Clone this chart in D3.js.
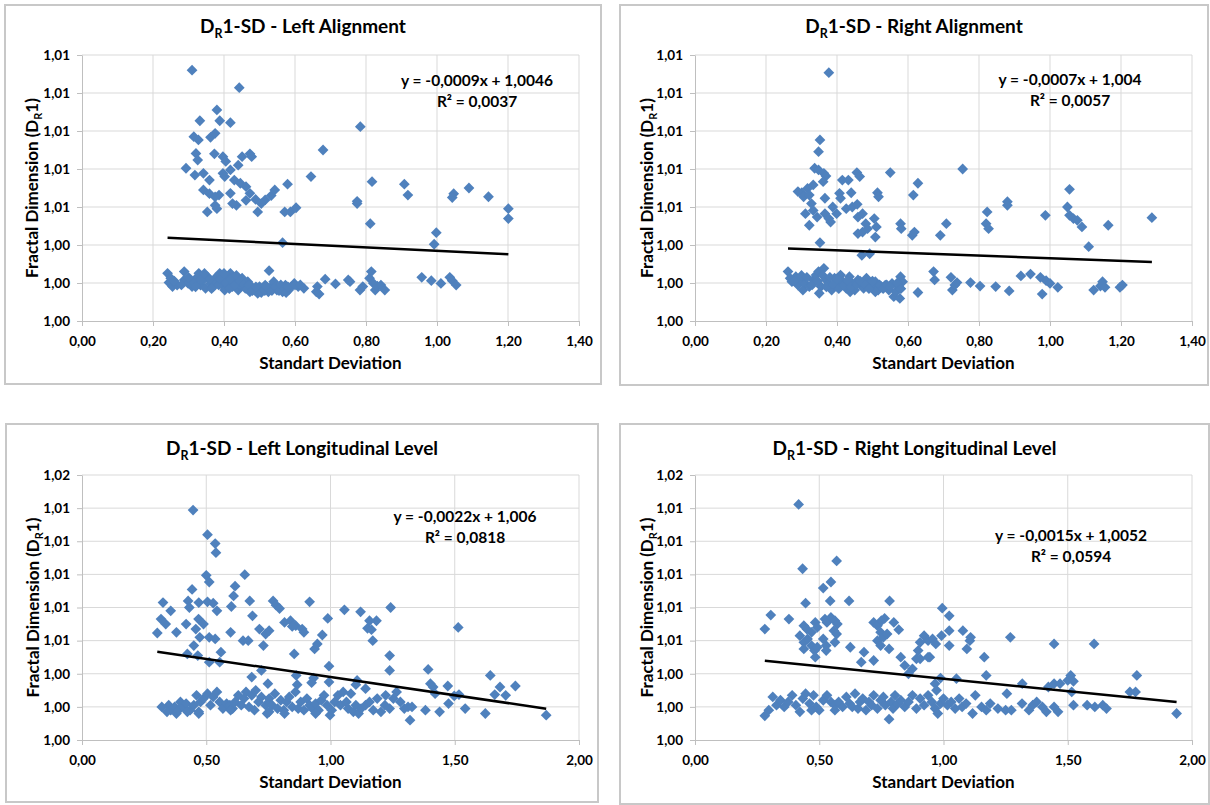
<!DOCTYPE html>
<html>
<head>
<meta charset="utf-8">
<script src="https://d3js.org/d3.v7.min.js"></script>
<style>
body {margin: 0; background: #fff;}
svg text {font-family: Lato, "Open Sans", sans-serif; font-weight: bold; fill: #000;}
.grid line {stroke: #d9d9d9; stroke-width: 1;}
.axis path, .axis line {stroke: #bfbfbf; stroke-width: 1;}
.axis text {font-size: 13.5px; font-weight: bold; fill: #000;}
.frame {fill: #fff; stroke: #c8c8c8; stroke-width: 2;}
</style>
</head>
<body>
<svg width="1210" height="805"></svg>
<script>

// ---- data ----
var xTicksAlign = [0, 0.2, 0.4, 0.6, 0.8, 1.0, 1.2, 1.4];
var xTicksLong = [0, 0.5, 1.0, 1.5, 2.0];
var yTicksAlign = [1.000, 1.002, 1.004, 1.006, 1.008, 1.010, 1.012, 1.014];
var yTicksLong = [1.000, 1.002, 1.004, 1.006, 1.008, 1.010, 1.012, 1.014, 1.016];

var titles = ["1-SD - Left Alignment", "1-SD - Right Alignment",
              "1-SD - Left Longitudinal Level", "1-SD - Right Longitudinal Level"];
var slopes = [-0.0009, -0.0007, -0.0022, -0.0015];
var intercepts = [1.0046, 1.004, 1.006, 1.0052];
var r2Labels = ["0,0037", "0,0057", "0,0818", "0,0594"];

var alignLeftPts = [
  [0.31,1.0132],[0.443,1.01228],[0.38,1.01111],[0.332,1.01054],[0.388,1.01054],[0.418,1.01044],[0.784,1.01023],
  [0.315,1.0097],[0.328,1.00953],[0.362,1.00967],[0.375,1.00988],[0.679,1.009],[0.293,1.00804],[0.321,1.00882],
  [0.326,1.00847],[0.373,1.0088],[0.397,1.00865],[0.405,1.0084],[0.473,1.0088],[0.478,1.00865],[0.451,1.00865],
  [0.318,1.00768],[0.342,1.00777],[0.359,1.00742],[0.397,1.00777],[0.418,1.00795],[0.44,1.0082],[0.402,1.0076],
  [0.429,1.00742],[0.446,1.00725],[0.462,1.00707],[0.473,1.00672],[0.342,1.0069],[0.386,1.00663],[0.418,1.00672],
  [0.489,1.0064],[0.645,1.0076],[0.579,1.0072],[0.817,1.00733],[0.908,1.0072],[0.918,1.00663],[1.047,1.0067],
  [1.09,1.007],[1.145,1.00654],[0.775,1.0063],[0.516,1.00637],[0.533,1.0066],[0.543,1.0069],[1.043,1.0065],
  [0.359,1.0067],[0.375,1.00653],[0.435,1.00609],[0.424,1.00618],[0.462,1.00635],[0.505,1.00618],[0.375,1.00609],
  [0.353,1.00574],[0.38,1.00591],[0.495,1.00574],[0.571,1.00574],[0.587,1.00574],[0.603,1.00596],[0.775,1.00618],
  [1.201,1.00591],[1.201,1.00539],[0.812,1.00512],[0.998,1.00465],[0.992,1.00404],[0.565,1.00412],
  [0.241,1.00251],[0.245,1.00202],[0.255,1.00181],[0.25,1.00225],[0.268,1.00189],[0.288,1.00216],[0.288,1.0026],
  [0.299,1.00198],[0.31,1.00181],[0.315,1.00207],[0.326,1.00233],[0.329,1.00251],[0.334,1.00189],[0.342,1.00216],
  [0.348,1.00172],[0.353,1.00233],[0.362,1.00198],[0.37,1.00181],[0.375,1.00225],[0.38,1.00207],[0.388,1.00251],
  [0.395,1.00189],[0.402,1.00163],[0.408,1.00233],[0.413,1.00198],[0.418,1.00251],[0.424,1.00181],[0.432,1.00216],
  [0.44,1.00163],[0.446,1.00189],[0.451,1.00225],[0.46,1.00172],[0.467,1.00207],[0.473,1.00154],[0.478,1.00181],
  [0.486,1.00163],[0.495,1.00146],[0.5,1.00181],[0.508,1.00163],[0.516,1.00189],[0.525,1.00154],[0.533,1.00181],
  [0.54,1.00207],[0.549,1.00163],[0.558,1.00181],[0.565,1.00154],[0.573,1.00189],[0.582,1.00163],[0.59,1.00181],
  [0.598,1.00198],[0.609,1.00181],[0.625,1.00172],[0.527,1.00265],
  [0.26,1.0021],[0.28,1.0019],[0.3,1.0023],[0.32,1.0018],[0.335,1.0022],[0.345,1.0025],[0.36,1.0022],[0.365,1.0017],
  [0.385,1.0019],[0.39,1.0022],[0.4,1.0025],[0.405,1.002],[0.415,1.0017],[0.42,1.0022],[0.43,1.0019],[0.435,1.0024],
  [0.445,1.0021],[0.455,1.0019],[0.465,1.0017],[0.47,1.0019],[0.48,1.0016],[0.49,1.0018],[0.505,1.0015],[0.515,1.0016],
  [0.52,1.0018],[0.535,1.0016],[0.545,1.0018],[0.555,1.0016],[0.56,1.0019],[0.57,1.0017],[0.575,1.0015],[0.58,1.0018],
  [0.6,1.0019],[0.615,1.0019],
  [0.663,1.00181],[0.66,1.00154],[0.668,1.00142],[0.685,1.0022],[0.714,1.00195],[0.75,1.00216],[0.755,1.00207],
  [0.783,1.00163],[0.791,1.00181],[0.81,1.00225],[0.815,1.0026],[0.821,1.00198],[0.826,1.00163],[0.832,1.00184],
  [0.842,1.00189],[0.853,1.00163],[0.957,1.0023],[0.984,1.00212],[1.011,1.00198],[1.036,1.0023],[1.043,1.00212],
  [1.054,1.00189]
];

var alignRightPts = [
  [0.377,1.01307],[0.352,1.00953],[0.348,1.00891],[0.337,1.00804],[0.348,1.00795],[0.363,1.00777],[0.369,1.00763],
  [0.361,1.00733],[0.333,1.00716],[0.317,1.00698],[0.301,1.00675],[0.29,1.00681],[0.306,1.00654],[0.322,1.00663],
  [0.366,1.00646],[0.415,1.00742],[0.432,1.00742],[0.456,1.00781],[0.464,1.0076],[0.55,1.00781],[0.628,1.00725],
  [0.754,1.008],[0.615,1.00663],[0.514,1.00675],[0.517,1.00654],[0.407,1.00672],[0.44,1.00675],[1.055,1.00693],
  [0.88,1.00628],[0.41,1.00646],
  [0.328,1.00618],[0.333,1.00582],[0.311,1.00565],[0.322,1.00504],[0.344,1.00547],[0.366,1.00565],[0.377,1.00539],
  [0.382,1.00521],[0.388,1.006],[0.399,1.00565],[0.426,1.00591],[0.443,1.006],[0.457,1.00614],[0.459,1.00547],
  [0.472,1.00565],[0.481,1.00512],[0.459,1.0046],[0.472,1.00468],[0.486,1.00486],[0.505,1.00539],[0.511,1.00495],
  [0.508,1.00442],[0.579,1.00512],[0.581,1.00486],[0.612,1.00451],[0.618,1.00468],[0.691,1.00451],[0.708,1.00512],
  [0.823,1.00574],[0.82,1.00512],[0.827,1.00486],[0.88,1.00609],[0.987,1.00556],[1.049,1.006],[1.055,1.00556],
  [1.066,1.00539],[1.077,1.0053],[1.09,1.00495],[1.109,1.00391],[1.164,1.00504],[1.287,1.00544],[0.352,1.00412],
  [0.47,1.00346],[0.492,1.00354],
  [0.262,1.0026],[0.268,1.00225],[0.273,1.00207],[0.284,1.00233],[0.29,1.00189],[0.297,1.00216],[0.304,1.00163],
  [0.311,1.00198],[0.322,1.00181],[0.333,1.00216],[0.341,1.00242],[0.348,1.0026],[0.355,1.00181],[0.363,1.00277],
  [0.369,1.00216],[0.377,1.00198],[0.385,1.00163],[0.393,1.00225],[0.402,1.00189],[0.41,1.00242],[0.417,1.00207],
  [0.426,1.00172],[0.435,1.00233],[0.443,1.00198],[0.45,1.00163],[0.459,1.00216],[0.468,1.00189],[0.475,1.00172],
  [0.483,1.00225],[0.492,1.00198],[0.501,1.00181],[0.508,1.00207],[0.516,1.00163],[0.525,1.00181],[0.536,1.00189],
  [0.546,1.00163],[0.555,1.00198],[0.56,1.00128],[0.566,1.00154],[0.574,1.00181],[0.577,1.00119],[0.579,1.00233],
  [0.585,1.00207],[0.35,1.00146],[0.437,1.00154],[0.508,1.00154],
  [0.28,1.0021],[0.3,1.0024],[0.315,1.0023],[0.33,1.0019],[0.345,1.0021],[0.36,1.0024],[0.37,1.0018],[0.38,1.0023],
  [0.39,1.0019],[0.4,1.0022],[0.405,1.0017],[0.42,1.0019],[0.43,1.0021],[0.44,1.0018],[0.455,1.0019],[0.465,1.0021],
  [0.48,1.0019],[0.49,1.0017],[0.5,1.0021],[0.52,1.0019],[0.53,1.0017],[0.54,1.0019],[0.55,1.0018],[0.57,1.002],
  [0.58,1.0017],
  [0.628,1.0015],[0.672,1.0026],[0.675,1.00216],[0.721,1.0023],[0.725,1.00163],[0.732,1.00189],[0.738,1.00202],
  [0.776,1.00202],[0.803,1.00184],[0.847,1.00181],[0.885,1.00158],[0.918,1.00237],[0.945,1.00247],[0.973,1.0023],
  [0.978,1.00142],[0.989,1.00212],[1.0,1.00198],[1.022,1.00177],[1.123,1.00163],[1.142,1.00184],[1.148,1.00207],
  [1.155,1.00177],[1.197,1.00177],[1.204,1.00189]
];

var longLeftPts = [
  [0.447,1.01388],[0.505,1.0124],[0.536,1.01186],[0.539,1.01131],[0.5,1.00994],[0.512,1.00954],[0.655,1.00998],
  [0.616,1.00929],[0.443,1.00909],
  [0.326,1.0083],[0.427,1.0084],[0.47,1.0083],[0.505,1.00834],[0.528,1.00826],[0.61,1.0087],[0.675,1.0084],
  [0.769,1.0084],[0.781,1.00814],[0.916,1.00834],[0.357,1.0078],[0.318,1.0073],[0.337,1.007],[0.432,1.008],
  [0.469,1.0073],[0.489,1.007],[0.543,1.0078],[0.601,1.00806],[0.686,1.0075],[0.795,1.00794],[0.839,1.0072],
  [0.86,1.0069],[0.886,1.0067],[0.893,1.0065],[0.989,1.00734],[1.056,1.00786],[1.121,1.00774],[1.185,1.0072],
  [1.242,1.008],[1.149,1.00674],[1.165,1.00666],[0.303,1.00646],[0.38,1.0065],[0.419,1.007],[0.45,1.0057],
  [0.474,1.0062],[0.512,1.0062],[0.536,1.0061],[0.458,1.0067],[0.598,1.0065],[0.648,1.006],[0.669,1.006],
  [0.714,1.0067],[0.739,1.0064],[0.73,1.0057],[0.815,1.0071],[0.846,1.00686],[0.936,1.0055],[0.947,1.0058],
  [0.967,1.00634],[0.753,1.0066],[1.157,1.0072],[1.17,1.006],[1.514,1.0068],[0.424,1.0052],[0.466,1.0051],
  [0.512,1.0047],[0.559,1.0053],[0.554,1.0047],[0.683,1.0038],[0.722,1.0042],[0.854,1.0052],[0.994,1.00446],
  [1.238,1.0051],[1.238,1.0042],[0.862,1.0039],[0.932,1.00374],[0.994,1.0035],[0.866,1.00334],[0.748,1.0034],
  [1.393,1.00426],[1.413,1.0032],[1.472,1.00326],[1.421,1.0028],[1.643,1.0039],[1.682,1.0032],[1.705,1.0027],
  [1.744,1.00326],[1.517,1.00274],[1.402,1.0034],[1.107,1.0036],[1.102,1.00334],[1.141,1.0031],[1.222,1.0027],
  [1.661,1.00274],[0.924,1.00346],
  [0.349,1.0021],[0.357,1.0018],[0.373,1.002],[0.38,1.0016],[0.388,1.0018],[0.396,1.0023],[0.408,1.002],
  [0.419,1.0022],[0.435,1.0018],[0.45,1.0021],[0.461,1.0027],[0.47,1.0017],[0.477,1.0023],[0.489,1.0025],
  [0.505,1.0028],[0.517,1.0021],[0.528,1.0026],[0.543,1.0029],[0.554,1.0023],[0.567,1.0019],[0.582,1.0022],
  [0.595,1.0021],[0.606,1.0019],[0.616,1.0023],[0.629,1.0027],[0.641,1.0021],[0.652,1.0025],[0.66,1.0029],
  [0.672,1.002],[0.683,1.0027],[0.694,1.0018],[0.699,1.003],[0.71,1.0023],[0.722,1.0026],[0.739,1.0021],
  [0.745,1.0016],[0.753,1.0025],[0.765,1.0021],[0.776,1.0028],[0.787,1.0019],[0.8,1.0024],[0.812,1.0018],
  [0.823,1.0023],[0.834,1.0026],[0.846,1.002],[0.859,1.0029],[0.87,1.0019],[0.88,1.0023],[0.893,1.0018],
  [0.905,1.0025],[0.916,1.0021],[0.927,1.0019],[0.94,1.0022],[0.952,1.0018],[0.963,1.0024],[0.974,1.0027],
  [0.986,1.0021],[0.998,1.0015],[1.005,1.0018],[1.017,1.0023],[1.03,1.0027],[1.04,1.0021],[1.051,1.0029],
  [1.064,1.0023],[1.071,1.0019],[1.082,1.0028],[1.092,1.0017],[1.102,1.0021],[1.113,1.0016],[1.123,1.0019],
  [1.141,1.0021],[1.157,1.0023],[1.172,1.0018],[1.188,1.0025],[1.203,1.0017],[1.219,1.0021],[1.238,1.0019],
  [1.253,1.0025],[1.266,1.0029],[1.281,1.0023],[1.297,1.0019],[1.312,1.002],[1.32,1.0012],[1.328,1.002],
  [1.382,1.0018],[1.439,1.0017],[1.475,1.0022],[1.498,1.00266],[1.542,1.0019],[1.623,1.0016],[1.868,1.0015],
  [0.321,1.002],[0.342,1.0017],[0.424,1.0017],[0.47,1.0016],[0.598,1.0018],[0.753,1.0017],[0.815,1.0016],
  [0.94,1.0016]
];

var longRightPts = [
  [0.417,1.01422],[0.433,1.01034],[0.57,1.01081],[0.547,1.00954],[0.516,1.00917],
  [0.445,1.00826],[0.544,1.0084],[0.62,1.0084],[0.783,1.0084],[0.995,1.00796],[0.305,1.00754],[0.378,1.0073],
  [0.281,1.0067],[0.438,1.0069],[0.45,1.0067],[0.469,1.0065],[0.484,1.0071],[0.492,1.0068],[0.523,1.0073],
  [0.531,1.0071],[0.547,1.0074],[0.563,1.0072],[0.573,1.007],[0.559,1.0066],[0.57,1.0064],[0.422,1.0063],
  [0.438,1.0059],[0.453,1.0061],[0.469,1.0057],[0.481,1.0054],[0.492,1.0056],[0.484,1.005],[0.438,1.0055],
  [0.516,1.0061],[0.528,1.0057],[0.528,1.0054],[0.563,1.0059],[0.625,1.0056],[0.68,1.0053],[0.669,1.0047],
  [0.719,1.0071],[0.734,1.0069],[0.75,1.0072],[0.763,1.00734],[0.747,1.0065],[0.734,1.006],[0.747,1.0057],
  [0.758,1.0062],[0.773,1.0064],[0.781,1.0055],[0.719,1.0048],[0.8,1.0071],[0.82,1.00666],[0.828,1.005],
  [0.844,1.0045],[0.875,1.0043],[0.891,1.0049],[0.898,1.0054],[0.922,1.0063],[0.938,1.006],[0.906,1.0059],
  [0.956,1.0061],[0.969,1.0058],[0.992,1.0063],[0.859,1.004],[0.906,1.0049],[0.945,1.005],[1.023,1.0057],
  [1.078,1.0066],[1.023,1.0066],[1.094,1.0055],[1.106,1.006],[1.109,1.0062],[1.164,1.005],[1.172,1.0039],
  [1.023,1.0075],[0.938,1.005],[1.269,1.0062],[1.445,1.0058],[1.606,1.0058],[1.317,1.0034],[1.422,1.0032],
  [1.445,1.0034],[1.469,1.0034],[1.5,1.0036],[1.512,1.0039],[1.523,1.00354],[1.75,1.0029],[1.773,1.0029],
  [1.778,1.0039],[1.516,1.0029],[1.255,1.0028],[0.966,1.0034],[0.972,1.003],[1.052,1.0037],[0.988,1.00374],
  [0.281,1.00146],[0.297,1.0018],[0.313,1.0026],[0.328,1.0021],[0.344,1.0024],[0.359,1.002],[0.375,1.0023],
  [0.391,1.0027],[0.406,1.0021],[0.422,1.0017],[0.434,1.0025],[0.445,1.0028],[0.461,1.0022],[0.477,1.0027],
  [0.488,1.002],[0.5,1.0018],[0.516,1.0024],[0.531,1.0027],[0.547,1.0023],[0.563,1.0021],[0.578,1.0023],
  [0.594,1.002],[0.609,1.0026],[0.622,1.0022],[0.633,1.002],[0.644,1.0028],[0.656,1.0019],[0.664,1.0023],
  [0.675,1.0025],[0.688,1.0018],[0.7,1.0023],[0.711,1.0021],[0.719,1.0027],[0.734,1.0019],[0.747,1.0024],
  [0.758,1.0026],[0.766,1.0021],[0.781,1.00126],[0.789,1.0023],[0.797,1.0019],[0.805,1.0027],[0.816,1.0022],
  [0.828,1.0024],[0.844,1.002],[0.859,1.0023],[0.875,1.0027],[0.891,1.0019],[0.906,1.0025],[0.922,1.0021],
  [0.938,1.0027],[0.953,1.0023],[0.966,1.0019],[0.977,1.0016],[0.988,1.0022],[1.0,1.0025],[1.016,1.0021],
  [1.031,1.0023],[1.047,1.0019],[1.063,1.0025],[1.075,1.002],[1.091,1.0022],[1.117,1.0016],[1.128,1.0027],
  [1.153,1.002],[1.172,1.0018],[1.188,1.0022],[1.219,1.0019],[1.25,1.0018],[1.273,1.0018],[1.316,1.0022],
  [1.344,1.0018],[1.359,1.0021],[1.375,1.0023],[1.398,1.002],[1.414,1.0017],[1.445,1.002],[1.461,1.0017],
  [1.523,1.0021],[1.578,1.0021],[1.609,1.002],[1.641,1.0021],[1.656,1.0019],[1.938,1.0016],[0.469,1.0018],
  [0.563,1.0018]
];

// ---- layout ----
var panels = [
  {frame: [5, 5, 596, 379],   plot: [82, 55, 579, 321],   pts: alignLeftPts,  xt: xTicksAlign, yt: yTicksAlign, titleY: 33,  eq: [477, 86]},
  {frame: [620, 5, 588, 380], plot: [695, 55, 1192, 321], pts: alignRightPts, xt: xTicksAlign, yt: yTicksAlign, titleY: 33,  eq: [1070, 85]},
  {frame: [6, 424, 592, 378], plot: [82, 475, 579, 740],  pts: longLeftPts,   xt: xTicksLong,  yt: yTicksLong,  titleY: 455, eq: [465, 522]},
  {frame: [620, 424, 589, 380], plot: [695, 475, 1192, 740], pts: longRightPts, xt: xTicksLong, yt: yTicksLong, titleY: 455, eq: [1071, 541]}
];

var svg = d3.select("svg");
var fmt = function(d) { return d3.format(".2f")(d).replace(".", ","); };
var diamond = d3.symbol(d3.symbolSquare, 58);

panels.forEach(function(p, i) {
  var f = p.frame, pl = p.plot;
  svg.append("rect").attr("class", "frame")
    .attr("x", f[0]).attr("y", f[1]).attr("width", f[2]).attr("height", f[3]);

  var x = d3.scaleLinear().domain(d3.extent(p.xt)).range([pl[0], pl[2]]);
  var y = d3.scaleLinear().domain(d3.extent(p.yt)).range([pl[3], pl[1]]);
  var g = svg.append("g");

  // grid lines
  g.append("g").attr("class", "grid").selectAll("line")
    .data(p.yt.slice(1)).join("line")
      .attr("x1", pl[0]).attr("x2", pl[2])
      .attr("y1", function(d) { return y(d); }).attr("y2", function(d) { return y(d); });
  g.append("g").attr("class", "grid").selectAll("line")
    .data(p.xt.slice(1)).join("line")
      .attr("x1", function(d) { return x(d); }).attr("x2", function(d) { return x(d); })
      .attr("y1", pl[1]).attr("y2", pl[3]);

  // axes
  g.append("g").attr("class", "axis").attr("transform", "translate(" + pl[0] + ",0)")
    .call(d3.axisLeft(y).tickValues(p.yt).tickSize(5).tickSizeOuter(0).tickPadding(7).tickFormat(fmt));
  g.append("g").attr("class", "axis").attr("transform", "translate(0," + pl[3] + ")")
    .call(d3.axisBottom(x).tickValues(p.xt).tickSize(5).tickSizeOuter(0).tickPadding(10).tickFormat(fmt));

  // points
  g.append("g").selectAll("path")
    .data(p.pts).join("path")
      .attr("d", diamond)
      .attr("transform", function(d) { return "translate(" + x(d[0]) + "," + y(d[1]) + ") rotate(45)"; })
      .attr("fill", "#4f81bd");

  // trend line
  var ext = d3.extent(p.pts, function(d) { return d[0]; });
  g.append("line")
    .attr("x1", x(ext[0])).attr("y1", y(intercepts[i] + slopes[i] * ext[0]))
    .attr("x2", x(ext[1])).attr("y2", y(intercepts[i] + slopes[i] * ext[1]))
    .attr("stroke", "#000").attr("stroke-width", 2.5);

  // title
  var t = svg.append("text").attr("x", f[0] + f[2] / 2).attr("y", p.titleY)
    .attr("text-anchor", "middle").style("font-size", "19px");
  t.append("tspan").text("D");
  t.append("tspan").text("R").attr("dy", 5).style("font-size", "12.5px");
  t.append("tspan").text(titles[i]).attr("dy", -5);

  // axis titles
  svg.append("text").attr("x", (pl[0] + pl[2]) / 2).attr("y", pl[3] + 48)
    .attr("text-anchor", "middle").style("font-size", "17px").text("Standart Deviation");
  var yt = svg.append("text")
    .attr("transform", "translate(" + (f[0] + 27) + "," + ((pl[1] + pl[3]) / 2) + ") rotate(-90)")
    .attr("text-anchor", "middle").attr("dy", "0.35em").style("font-size", "17px");
  yt.append("tspan").text("Fractal Dimension (D");
  yt.append("tspan").text("R").attr("dy", 4).style("font-size", "11px");
  yt.append("tspan").text("1)").attr("dy", -4);

  // equation
  var eqText = "y = " + String(slopes[i]).replace(".", ",") + "x + " + String(intercepts[i]).replace(".", ",");
  svg.append("text").attr("x", p.eq[0]).attr("y", p.eq[1])
    .attr("text-anchor", "middle").style("font-size", "15.5px").text(eqText);
  svg.append("text").attr("x", p.eq[0]).attr("y", p.eq[1] + 21)
    .attr("text-anchor", "middle").style("font-size", "15.5px").text("R\u00b2 = " + r2Labels[i]);
});

</script>
</body>
</html>
